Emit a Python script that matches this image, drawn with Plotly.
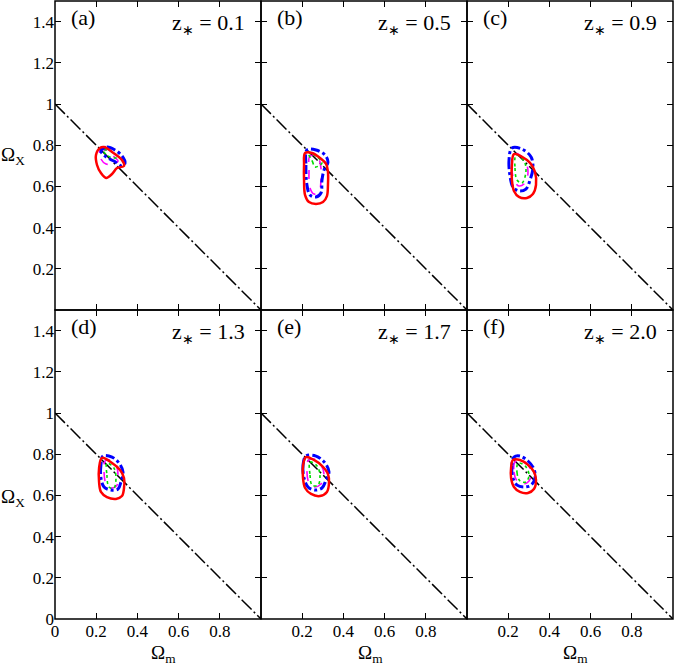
import plotly.graph_objects as go
from plotly.subplots import make_subplots

# panel labels and z* values
panel_tags = ['(a)', '(b)', '(c)', '(d)', '(e)', '(f)']
z_star = ['0.1', '0.5', '0.9', '1.3', '1.7', '2.0']

# flat universe line Omega_m + Omega_X = 1
flat_x = [0.0, 1.0]
flat_y = [1.0, 0.0]

# contours, (Omega_m, Omega_X) per panel
red_contours = [
    [(0.218, 0.786), (0.199, 0.752), (0.204, 0.704), (0.223, 0.665), (0.248, 0.641), (0.277, 0.660),
     (0.301, 0.689), (0.335, 0.699), (0.325, 0.728), (0.277, 0.767), (0.238, 0.791)],
    [(0.214, 0.762), (0.209, 0.704), (0.209, 0.631), (0.214, 0.558), (0.233, 0.524), (0.267, 0.515),
     (0.301, 0.524), (0.320, 0.553), (0.325, 0.607), (0.325, 0.670), (0.316, 0.709), (0.286, 0.738),
     (0.248, 0.762)],
    [(0.228, 0.757), (0.218, 0.704), (0.218, 0.631), (0.228, 0.578), (0.252, 0.549), (0.291, 0.544),
     (0.320, 0.563), (0.335, 0.607), (0.330, 0.670), (0.306, 0.714), (0.267, 0.743)],
    [(0.228, 0.782), (0.214, 0.733), (0.214, 0.665), (0.223, 0.617), (0.252, 0.592), (0.296, 0.583),
     (0.325, 0.597), (0.335, 0.636), (0.335, 0.684), (0.316, 0.723), (0.277, 0.757)],
    [(0.218, 0.786), (0.204, 0.743), (0.204, 0.684), (0.214, 0.636), (0.243, 0.607), (0.286, 0.597),
     (0.320, 0.617), (0.330, 0.660), (0.325, 0.704), (0.296, 0.743), (0.257, 0.772)],
    [(0.223, 0.772), (0.214, 0.733), (0.214, 0.684), (0.228, 0.641), (0.257, 0.617), (0.296, 0.612),
     (0.325, 0.631), (0.335, 0.675), (0.325, 0.714), (0.296, 0.748), (0.257, 0.772)],
]

blue_contours = [
    [(0.223, 0.772), (0.252, 0.791), (0.291, 0.777), (0.325, 0.748), (0.340, 0.714), (0.325, 0.699),
     (0.286, 0.723), (0.248, 0.743)],
    [(0.223, 0.777), (0.218, 0.704), (0.223, 0.607), (0.238, 0.558), (0.267, 0.549), (0.291, 0.568),
     (0.296, 0.631), (0.306, 0.680), (0.325, 0.718), (0.311, 0.752), (0.267, 0.777)],
    [(0.218, 0.786), (0.204, 0.728), (0.209, 0.650), (0.223, 0.597), (0.252, 0.578), (0.286, 0.587),
     (0.306, 0.631), (0.320, 0.689), (0.311, 0.743), (0.267, 0.781)],
    [(0.233, 0.791), (0.223, 0.748), (0.223, 0.684), (0.238, 0.641), (0.272, 0.626), (0.306, 0.631),
     (0.320, 0.665), (0.330, 0.714), (0.311, 0.757), (0.277, 0.786)],
    [(0.218, 0.791), (0.204, 0.748), (0.209, 0.684), (0.228, 0.641), (0.262, 0.626), (0.296, 0.636),
     (0.316, 0.675), (0.330, 0.714), (0.311, 0.757), (0.267, 0.791)],
    [(0.228, 0.786), (0.218, 0.743), (0.223, 0.684), (0.243, 0.650), (0.277, 0.641), (0.311, 0.650),
     (0.330, 0.684), (0.325, 0.728), (0.296, 0.767), (0.257, 0.791)],
]

magenta_contours = [
    [(0.218, 0.772), (0.223, 0.733), (0.248, 0.709), (0.282, 0.709), (0.306, 0.723), (0.277, 0.752),
     (0.243, 0.777)],
    [(0.238, 0.748), (0.233, 0.680), (0.238, 0.592), (0.257, 0.563), (0.282, 0.573), (0.291, 0.631),
     (0.291, 0.689), (0.277, 0.738)],
    [(0.228, 0.762), (0.218, 0.694), (0.228, 0.631), (0.252, 0.602), (0.282, 0.617), (0.296, 0.665),
     (0.286, 0.718), (0.257, 0.752)],
    [(0.243, 0.767), (0.238, 0.714), (0.248, 0.655), (0.272, 0.636), (0.301, 0.650), (0.306, 0.699),
     (0.296, 0.748), (0.267, 0.772)],
    [(0.228, 0.767), (0.223, 0.714), (0.233, 0.660), (0.257, 0.641), (0.291, 0.655), (0.306, 0.699),
     (0.291, 0.748), (0.257, 0.777)],
    [(0.233, 0.762), (0.228, 0.714), (0.243, 0.670), (0.272, 0.655), (0.301, 0.670), (0.311, 0.714),
     (0.296, 0.748), (0.262, 0.772)],
]

green_contours = [
    [(0.233, 0.777), (0.257, 0.748), (0.291, 0.738), (0.306, 0.743), (0.267, 0.772)],
    [(0.228, 0.767), (0.250, 0.720), (0.262, 0.694), (0.296, 0.714), (0.270, 0.745)],
    [(0.238, 0.752), (0.233, 0.689), (0.243, 0.631), (0.267, 0.617), (0.286, 0.670), (0.277, 0.723)],
    [(0.252, 0.757), (0.252, 0.699), (0.262, 0.641), (0.286, 0.636), (0.296, 0.684), (0.286, 0.733)],
    [(0.238, 0.762), (0.238, 0.699), (0.248, 0.650), (0.277, 0.650), (0.286, 0.699), (0.272, 0.743)],
    [(0.248, 0.757), (0.243, 0.709), (0.257, 0.670), (0.286, 0.665), (0.301, 0.699), (0.282, 0.743)],
]

x_ticks_first = [0, 0.2, 0.4, 0.6, 0.8]
x_ticks_other = [0.2, 0.4, 0.6, 0.8]
y_ticks_bottom = [0, 0.2, 0.4, 0.6, 0.8, 1, 1.2, 1.4]
y_ticks_top = [0.2, 0.4, 0.6, 0.8, 1, 1.2, 1.4]

serif = 'Liberation Serif, Times New Roman, serif'

fig = make_subplots(rows=2, cols=3, horizontal_spacing=0, vertical_spacing=0)

styles = [
    (magenta_contours, dict(color='#ff00ff', width=1.6, dash='dash')),
    (green_contours, dict(color='#00dd00', width=1.6, dash='dot')),
    (blue_contours, dict(color='#0000ff', width=3, dash='dashdot')),
    (red_contours, dict(color='#ff0000', width=2.5)),
]


def closed(pts):
    xs = [p[0] for p in pts] + [pts[0][0]]
    ys = [p[1] for p in pts] + [pts[0][1]]
    return xs, ys


for i in range(6):
    row, col = i // 3 + 1, i % 3 + 1
    fig.add_trace(go.Scatter(x=flat_x, y=flat_y, mode='lines',
                             line=dict(color='black', width=1.5, dash='14px,3px,2px,3px'),
                             showlegend=False, hoverinfo='skip'), row=row, col=col)
    for contours, line in styles:
        xs, ys = closed(contours[i])
        fig.add_trace(go.Scatter(x=xs, y=ys, mode='lines', line=dict(shape='spline', smoothing=1.0, **line),
                                 showlegend=False, hoverinfo='skip'), row=row, col=col)

    xt = x_ticks_first if col == 1 else x_ticks_other
    yt = y_ticks_bottom if row == 2 else y_ticks_top
    fig.update_xaxes(range=[0, 1], tickvals=xt, ticktext=[('%g' % v) for v in xt],
                     showticklabels=(row == 2), row=row, col=col)
    fig.update_yaxes(range=[0, 1.5], tickvals=yt, ticktext=[('%g' % v) for v in yt],
                     showticklabels=(col == 1), row=row, col=col)

    ax = '' if i == 0 else str(i + 1)
    # panel frame
    fig.add_shape(type='rect', xref='x%s domain' % ax, yref='y%s domain' % ax,
                  x0=0, x1=1, y0=0, y1=1, line=dict(color='black', width=1.5), layer='above')
    fig.add_annotation(text=panel_tags[i], xref='x%s domain' % ax, yref='y%s domain' % ax,
                       x=0.07, y=0.948, xanchor='left', yanchor='middle', showarrow=False,
                       font=dict(family=serif, size=22, color='black'))
    fig.add_annotation(text='z<sub><span style="font-size:14px">∗</span></sub> = ' + z_star[i],
                       xref='x%s domain' % ax, yref='y%s domain' % ax,
                       x=0.93, y=0.925, xanchor='right', yanchor='middle', showarrow=False,
                       font=dict(family=serif, size=22, color='black'))

axis_style = dict(showgrid=False, zeroline=False, showline=False, automargin=False,
                  mirror='ticks', ticks='inside', ticklen=6, tickwidth=1, tickcolor='black',
                  tickfont=dict(family=serif, size=17, color='black'))
fig.update_xaxes(**axis_style)
fig.update_yaxes(**axis_style)

# axis titles
for yp in [0.75, 0.195]:
    fig.add_annotation(text='Ω<sub>X</sub>', xref='paper', yref='paper', x=-0.068, y=yp,
                       xanchor='center', yanchor='middle', showarrow=False,
                       font=dict(family=serif, size=19, color='black'))
for xp in [0.176, 0.51, 0.843]:
    fig.add_annotation(text='Ω<sub>m</sub>', xref='paper', yref='paper', x=xp, y=-0.057,
                       xanchor='center', yanchor='middle', showarrow=False,
                       font=dict(family=serif, size=19, color='black'))

fig.update_layout(width=674, height=668, plot_bgcolor='white', paper_bgcolor='white',
                  margin=dict(l=55, r=1, t=1, b=49, autoexpand=False), showlegend=False)

fig.write_html("out.html", config={'displayModeBar': False},
               post_script="document.body.style.margin='0';")
